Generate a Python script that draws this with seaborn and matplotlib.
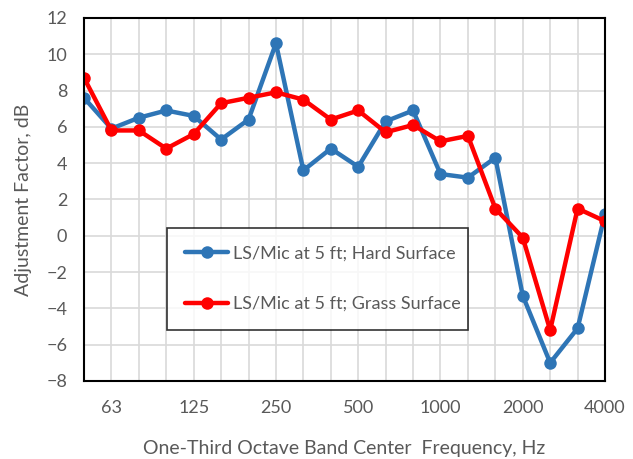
import pandas as pd
import numpy as np

import matplotlib
matplotlib.use("Agg")
import matplotlib.pyplot as plt
import seaborn as sns

# =========================================
# DATA
# =========================================

bands = ["50", "63", "80", "100", "125", "160", "200", "250", "315", "400",
         "500", "630", "800", "1000", "1250", "1600", "2000", "2500", "3150", "4000"]

hard_surface = [7.6, 5.9, 6.5, 6.9, 6.6, 5.3, 6.4, 10.6, 3.6, 4.8,
                3.8, 6.3, 6.9, 3.4, 3.2, 4.3, -3.3, -7.0, -5.1, 1.2]

grass_surface = [8.7, 5.8, 5.8, 4.8, 5.6, 7.3, 7.6, 7.9, 7.5, 6.4,
                 6.9, 5.7, 6.1, 5.2, 5.5, 1.5, -0.1, -5.2, 1.5, 0.8]

label_bands = ["63", "125", "250", "500", "1000", "2000", "4000"]

series_names = ["LS/Mic at 5 ft; Hard Surface", "LS/Mic at 5 ft; Grass Surface"]
series_colors = ["#2E75B6", "#FF0000"]

df = pd.DataFrame({
    "pos": list(range(len(bands))) * 2,
    "value": hard_surface + grass_surface,
    "series": [series_names[0]] * len(bands) + [series_names[1]] * len(bands),
})

# =========================================
# PLOT
# =========================================

sns.set_style("white")
plt.rcParams["font.family"] = ["Lato", "DejaVu Sans"]

text_color = "#595959"

fig = plt.figure(figsize=(6.33, 4.59), dpi=100)
ax = fig.add_axes([0.1327, 0.170, 0.8231, 0.791])

sns.lineplot(
    data=df,
    x="pos",
    y="value",
    hue="series",
    palette=series_colors,
    marker="o",
    markersize=9,
    markeredgewidth=0,
    linewidth=3.2,
    ax=ax,
)

ax.set_xlim(0, len(bands) - 1)
ax.set_ylim(-8, 12)
ax.set_yticks(np.arange(-8, 13, 2))

ax.set_xticks(range(len(bands)), minor=True)
ax.set_xticks([bands.index(b) for b in label_bands])
ax.set_xticklabels(label_bands)

ax.grid(True, which="both", color="#D9D9D9", linewidth=1.2)
ax.set_axisbelow(True)

ax.tick_params(axis="x", which="both", direction="in", length=5, width=1.2,
               color="black", pad=14)
ax.tick_params(axis="x", labelsize=13, labelcolor=text_color)
ax.tick_params(axis="y", direction="out", length=5, width=1.2, color="black",
               pad=7, labelsize=13, labelcolor=text_color)

for spine in ax.spines.values():
    spine.set_color("black")
    spine.set_linewidth(1.5)

ax.set_xlabel("One-Third Octave Band Center  Frequency, Hz", fontsize=14,
              color=text_color, labelpad=17)
ax.set_ylabel("Adjustment Factor, dB", fontsize=14, color=text_color,
              labelpad=10)

leg = ax.legend(
    loc="lower left",
    bbox_to_anchor=(0.159, 0.14, 0.578, 0.295),
    mode="expand",
    fontsize=13,
    handlelength=2.4,
    handletextpad=0.25,
    labelspacing=1.9,
    borderpad=1.0,
    borderaxespad=0,
    frameon=True,
    fancybox=False,
)
leg.get_frame().set_edgecolor("black")
leg.get_frame().set_linewidth(1.2)
for t in leg.get_texts():
    t.set_color(text_color)

plt.savefig("out.png", dpi=100)
plt.close()
